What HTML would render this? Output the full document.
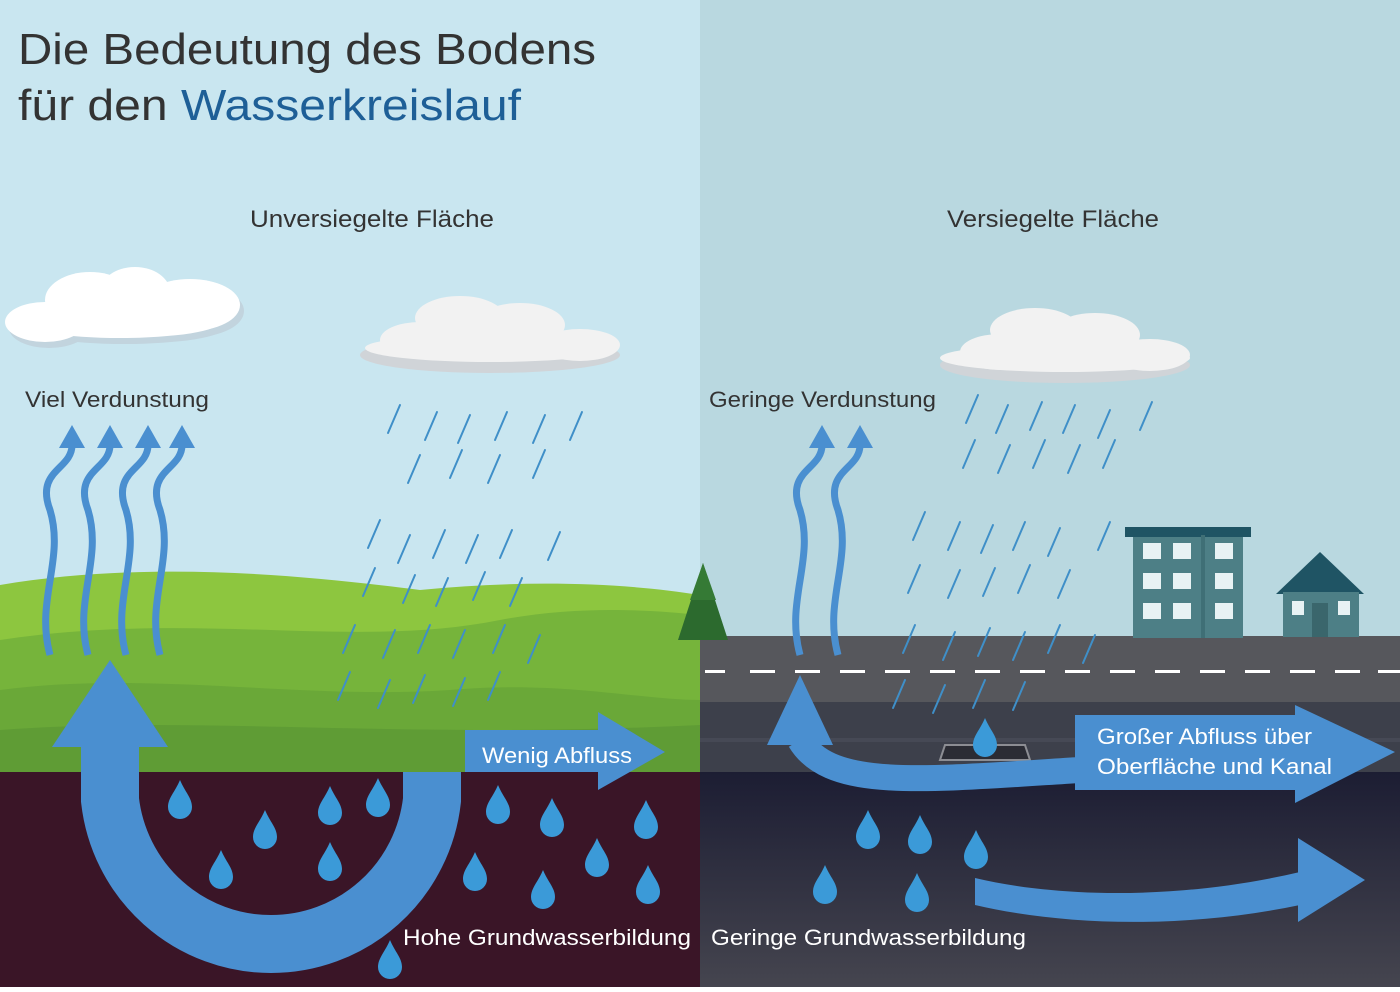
<!DOCTYPE html>
<html><head><meta charset="utf-8"><style>
html,body{margin:0;padding:0;}
body{width:1400px;height:987px;overflow:hidden;font-family:"Liberation Sans",sans-serif;}
svg text{font-family:"Liberation Sans",sans-serif;}
</style></head><body>
<svg width="1400" height="987" viewBox="0 0 1400 987" xmlns="http://www.w3.org/2000/svg">
<defs>
<path id="drop" d="M0,-20 C5,-8 12,-2 12,7 A12,12 0 0 1 -12,7 C-12,-2 -5,-8 0,-20Z" fill="#3b9ad8"/>
<linearGradient id="soilR" x1="0" y1="0" x2="0" y2="1"><stop offset="0" stop-color="#1c1d33"/><stop offset="1" stop-color="#45454f"/></linearGradient>
</defs>
<rect x="0" y="0" width="700" height="987" fill="#c9e6f0"/>
<rect x="700" y="0" width="700" height="987" fill="#b9d8e0"/>
<path d="M0,585 C150,560 300,575 420,590 C520,580 620,582 700,595 L700,772 L0,772Z" fill="#8dc63f"/>
<path d="M0,640 C200,610 350,650 500,620 C580,605 650,610 700,615 L700,772 L0,772Z" fill="#76b43b"/>
<path d="M0,690 C150,670 300,700 450,690 C560,680 640,700 700,700 L700,772 L0,772Z" fill="#6aa838"/>
<path d="M0,730 C200,715 400,740 700,725 L700,772 L0,772Z" fill="#5f9c35"/>
<rect x="0" y="772" width="700" height="215" fill="#3a1527"/>
<rect x="700" y="636" width="700" height="66" fill="#56575c"/>
<rect x="700" y="702" width="700" height="70" fill="#3d404b"/>
<rect x="700" y="738" width="700" height="4" fill="#464955"/>
<g fill="#fff">
<rect x="705" y="670" width="20" height="3"/><rect x="750" y="670" width="25" height="3"/><rect x="795" y="670" width="25" height="3"/><rect x="840" y="670" width="25" height="3"/><rect x="885" y="670" width="25" height="3"/><rect x="930" y="670" width="25" height="3"/><rect x="975" y="670" width="25" height="3"/><rect x="1020" y="670" width="25" height="3"/><rect x="1065" y="670" width="25" height="3"/><rect x="1110" y="670" width="25" height="3"/><rect x="1155" y="670" width="25" height="3"/><rect x="1200" y="670" width="25" height="3"/><rect x="1245" y="670" width="25" height="3"/><rect x="1290" y="670" width="25" height="3"/><rect x="1335" y="670" width="25" height="3"/><rect x="1378" y="670" width="22" height="3"/>
</g>
<rect x="700" y="772" width="700" height="215" fill="url(#soilR)"/>
<polygon points="703,563 678,640 728,640" fill="#2c6a2e"/>
<polygon points="703,563 690,600 716,600" fill="#357a35"/>
<rect x="1133" y="535" width="110" height="103" fill="#4d7f86"/>
<rect x="1125" y="527" width="126" height="10" fill="#1f5464"/>
<g fill="#e8f2f4">
<rect x="1143" y="543" width="18" height="16"/><rect x="1173" y="543" width="18" height="16"/><rect x="1215" y="543" width="18" height="16"/>
<rect x="1143" y="573" width="18" height="16"/><rect x="1173" y="573" width="18" height="16"/><rect x="1215" y="573" width="18" height="16"/>
<rect x="1143" y="603" width="18" height="16"/><rect x="1173" y="603" width="18" height="16"/><rect x="1215" y="603" width="18" height="16"/>
</g>
<rect x="1201" y="535" width="4" height="103" fill="#3f6f76"/>
<polygon points="1320,552 1276,594 1364,594" fill="#1f5464"/>
<rect x="1283" y="592" width="76" height="45" fill="#4d7f86"/>
<rect x="1312" y="603" width="16" height="34" fill="#3a666c"/>
<rect x="1292" y="601" width="12" height="14" fill="#e8f2f4"/><rect x="1338" y="601" width="12" height="14" fill="#e8f2f4"/>
<polygon points="945,745 1025,745 1030,760 940,760" fill="#2b2c34" stroke="#8c8d93" stroke-width="2"/>
<g>
<g fill="#c2d4de" transform="translate(4,6)">
<ellipse cx="45" cy="322" rx="40" ry="20"/><ellipse cx="90" cy="300" rx="45" ry="28"/><ellipse cx="135" cy="292" rx="35" ry="25"/><ellipse cx="190" cy="305" rx="50" ry="26"/><ellipse cx="120" cy="322" rx="100" ry="16"/>
</g>
<g fill="#fff">
<ellipse cx="45" cy="322" rx="40" ry="20"/><ellipse cx="90" cy="300" rx="45" ry="28"/><ellipse cx="135" cy="292" rx="35" ry="25"/><ellipse cx="190" cy="305" rx="50" ry="26"/><ellipse cx="120" cy="322" rx="100" ry="16"/>
</g>
</g>
<g>
<g fill="#d0d4d8"><ellipse cx="490" cy="355" rx="130" ry="18"/></g>
<g fill="#f2f2f2">
<ellipse cx="420" cy="340" rx="40" ry="18"/><ellipse cx="460" cy="318" rx="45" ry="22"/><ellipse cx="520" cy="325" rx="45" ry="22"/><ellipse cx="580" cy="345" rx="40" ry="16"/><ellipse cx="490" cy="348" rx="125" ry="14"/>
</g>
</g>
<g>
<g fill="#d0d4d8"><ellipse cx="1065" cy="365" rx="125" ry="18"/></g>
<g fill="#f2f2f2">
<ellipse cx="1000" cy="352" rx="40" ry="18"/><ellipse cx="1035" cy="330" rx="45" ry="22"/><ellipse cx="1095" cy="335" rx="45" ry="22"/><ellipse cx="1150" cy="355" rx="40" ry="16"/><ellipse cx="1065" cy="358" rx="125" ry="14"/>
</g>
</g>
<g stroke="#3f8fc8" stroke-width="2" stroke-linecap="round">
<line x1="400" y1="405" x2="388" y2="433"/><line x1="437" y1="412" x2="425" y2="440"/><line x1="470" y1="415" x2="458" y2="443"/><line x1="507" y1="412" x2="495" y2="440"/><line x1="545" y1="415" x2="533" y2="443"/><line x1="582" y1="412" x2="570" y2="440"/>
<line x1="420" y1="455" x2="408" y2="483"/><line x1="462" y1="450" x2="450" y2="478"/><line x1="500" y1="455" x2="488" y2="483"/><line x1="545" y1="450" x2="533" y2="478"/>
<line x1="380" y1="520" x2="368" y2="548"/><line x1="410" y1="535" x2="398" y2="563"/><line x1="445" y1="530" x2="433" y2="558"/><line x1="478" y1="535" x2="466" y2="563"/><line x1="512" y1="530" x2="500" y2="558"/><line x1="560" y1="532" x2="548" y2="560"/>
<line x1="375" y1="568" x2="363" y2="596"/><line x1="415" y1="575" x2="403" y2="603"/><line x1="448" y1="578" x2="436" y2="606"/><line x1="485" y1="572" x2="473" y2="600"/><line x1="522" y1="578" x2="510" y2="606"/>
<line x1="355" y1="625" x2="343" y2="653"/><line x1="395" y1="630" x2="383" y2="658"/><line x1="430" y1="625" x2="418" y2="653"/><line x1="465" y1="630" x2="453" y2="658"/><line x1="505" y1="625" x2="493" y2="653"/><line x1="540" y1="635" x2="528" y2="663"/>
<line x1="350" y1="672" x2="338" y2="700"/><line x1="390" y1="680" x2="378" y2="708"/><line x1="425" y1="675" x2="413" y2="703"/><line x1="465" y1="678" x2="453" y2="706"/><line x1="500" y1="672" x2="488" y2="700"/>
</g>
<g stroke="#3f8fc8" stroke-width="2" stroke-linecap="round">
<line x1="978" y1="395" x2="966" y2="423"/><line x1="1008" y1="405" x2="996" y2="433"/><line x1="1042" y1="402" x2="1030" y2="430"/><line x1="1075" y1="405" x2="1063" y2="433"/><line x1="1110" y1="410" x2="1098" y2="438"/><line x1="1152" y1="402" x2="1140" y2="430"/>
<line x1="975" y1="440" x2="963" y2="468"/><line x1="1010" y1="445" x2="998" y2="473"/><line x1="1045" y1="440" x2="1033" y2="468"/><line x1="1080" y1="445" x2="1068" y2="473"/><line x1="1115" y1="440" x2="1103" y2="468"/>
<line x1="925" y1="512" x2="913" y2="540"/><line x1="960" y1="522" x2="948" y2="550"/><line x1="993" y1="525" x2="981" y2="553"/><line x1="1025" y1="522" x2="1013" y2="550"/><line x1="1060" y1="528" x2="1048" y2="556"/><line x1="1110" y1="522" x2="1098" y2="550"/>
<line x1="920" y1="565" x2="908" y2="593"/><line x1="960" y1="570" x2="948" y2="598"/><line x1="995" y1="568" x2="983" y2="596"/><line x1="1030" y1="565" x2="1018" y2="593"/><line x1="1070" y1="570" x2="1058" y2="598"/>
<line x1="915" y1="625" x2="903" y2="653"/><line x1="955" y1="632" x2="943" y2="660"/><line x1="990" y1="628" x2="978" y2="656"/><line x1="1025" y1="632" x2="1013" y2="660"/><line x1="1060" y1="625" x2="1048" y2="653"/><line x1="1095" y1="635" x2="1083" y2="663"/>
<line x1="905" y1="680" x2="893" y2="708"/><line x1="945" y1="685" x2="933" y2="713"/><line x1="985" y1="680" x2="973" y2="708"/><line x1="1025" y1="682" x2="1013" y2="710"/>
</g>
<g fill="none" stroke="#4a8fd0" stroke-width="7">
<path d="M50,655 C35,600 65,560 50,510 C35,470 72,470 72,445"/>
<path d="M88,655 C73,600 103,560 88,510 C73,470 110,470 110,445"/>
<path d="M126,655 C111,600 141,560 126,510 C111,470 148,470 148,445"/>
<path d="M160,655 C145,600 175,560 160,510 C145,470 182,470 182,445"/>
<path d="M800,655 C785,600 815,560 800,510 C785,470 822,470 822,445"/>
<path d="M838,655 C823,600 853,560 838,510 C823,470 860,470 860,445"/>
</g>
<g fill="#4a8fd0">
<polygon points="72,425 59,448 85,448"/><polygon points="110,425 97,448 123,448"/><polygon points="148,425 135,448 161,448"/><polygon points="182,425 169,448 195,448"/>
<polygon points="822,425 809,448 835,448"/><polygon points="860,425 847,448 873,448"/>
</g>
<path d="M110,740 L110,800 A162,162 0 0 0 432,800 L432,772" fill="none" stroke="#4a8fd0" stroke-width="58"/>
<polygon points="110,660 52,747 168,747" fill="#4a8fd0"/>
<polygon points="465,730 598,730 598,712 665,752 598,790 598,772 465,772" fill="#4a8fd0"/>
<path d="M800,740 C830,790 920,780 1080,770 L1300,770" fill="none" stroke="#4a8fd0" stroke-width="26"/>
<polygon points="800,675 767,745 833,745" fill="#4a8fd0"/>
<polygon points="1075,715 1295,715 1295,705 1395,752 1295,803 1295,790 1075,790" fill="#4a8fd0"/>
<path d="M975,878 C1060,898 1180,900 1300,872 L1300,905 C1180,930 1060,925 975,905Z" fill="#4a8fd0"/>
<polygon points="1298,838 1365,880 1298,922" fill="#4a8fd0"/>
<use href="#drop" x="180" y="800"/><use href="#drop" x="265" y="830"/><use href="#drop" x="330" y="806"/><use href="#drop" x="378" y="798"/>
<use href="#drop" x="221" y="870"/><use href="#drop" x="330" y="862"/><use href="#drop" x="498" y="805"/><use href="#drop" x="552" y="818"/>
<use href="#drop" x="646" y="820"/><use href="#drop" x="475" y="872"/><use href="#drop" x="597" y="858"/><use href="#drop" x="543" y="890"/>
<use href="#drop" x="648" y="885"/><use href="#drop" x="390" y="960"/>
<use href="#drop" x="868" y="830"/><use href="#drop" x="920" y="835"/><use href="#drop" x="976" y="850"/><use href="#drop" x="825" y="885"/><use href="#drop" x="917" y="893"/>
<use href="#drop" x="985" y="738"/>
<text x="18" y="64" font-size="44" fill="#333" textLength="578" lengthAdjust="spacingAndGlyphs">Die Bedeutung des Bodens</text>
<text x="18" y="120" font-size="44" fill="#333" textLength="503" lengthAdjust="spacingAndGlyphs">für den <tspan fill="#1e5f97">Wasserkreislauf</tspan></text>
<text x="250" y="227" font-size="24" fill="#333" textLength="244" lengthAdjust="spacingAndGlyphs">Unversiegelte Fläche</text>
<text x="947" y="227" font-size="24" fill="#333" textLength="212" lengthAdjust="spacingAndGlyphs">Versiegelte Fläche</text>
<text x="25" y="407" font-size="22" fill="#333" textLength="184" lengthAdjust="spacingAndGlyphs">Viel Verdunstung</text>
<text x="709" y="407" font-size="22" fill="#333" textLength="227" lengthAdjust="spacingAndGlyphs">Geringe Verdunstung</text>
<text x="482" y="763" font-size="22" fill="#fff" textLength="150" lengthAdjust="spacingAndGlyphs">Wenig Abfluss</text>
<text x="1097" y="744" font-size="22" fill="#fff" textLength="215" lengthAdjust="spacingAndGlyphs">Großer Abfluss über</text>
<text x="1097" y="774" font-size="22" fill="#fff" textLength="235" lengthAdjust="spacingAndGlyphs">Oberfläche und Kanal</text>
<text x="403" y="945" font-size="22" fill="#fff" textLength="288" lengthAdjust="spacingAndGlyphs">Hohe Grundwasserbildung</text>
<text x="711" y="945" font-size="22" fill="#fff" textLength="315" lengthAdjust="spacingAndGlyphs">Geringe Grundwasserbildung</text>
</svg>
</body></html>
